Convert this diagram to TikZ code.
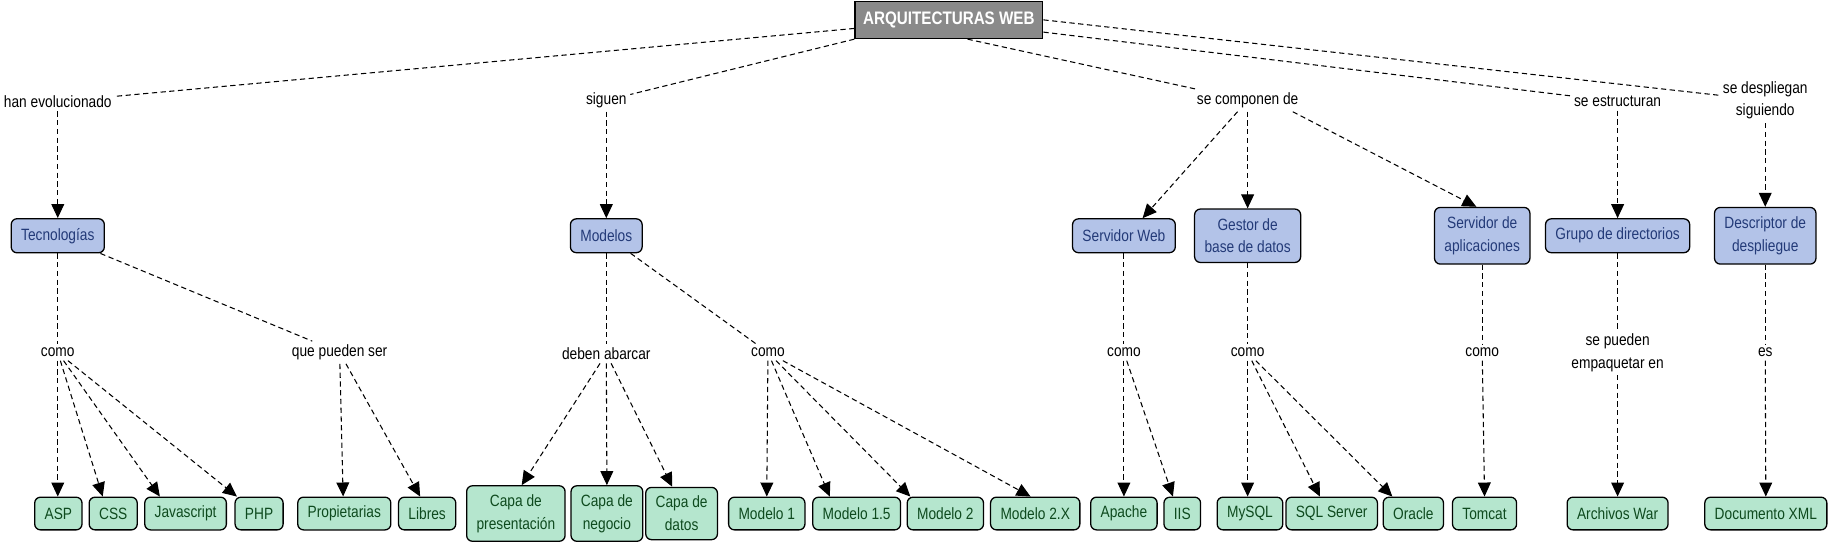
\documentclass[tikz,border=0pt]{standalone}
\usepackage{fontspec}
\setmainfont[FakeStretch=0.84]{Liberation Sans}
\usetikzlibrary{arrows.meta}
\definecolor{cblue}{HTML}{B3C3E8}
\definecolor{cnavy}{HTML}{233A78}
\definecolor{cgreen}{HTML}{B5E6CE}
\definecolor{cdgreen}{HTML}{0E4A1E}
\definecolor{cgray}{HTML}{8A8A8A}
\begin{document}
\begin{tikzpicture}[x=1pt,y=-1pt,
  base/.style={font=\fontsize{14}{19.5}\selectfont, align=center},
  rootbox/.style={draw, line width=1.1pt, fill=cgray, text=white, font=\fontsize{15.5}{18}\selectfont\bfseries, inner xsep=7pt, minimum height=32pt},
  concept/.style={base, draw, line width=1.1pt, rounded corners=5pt, fill=cblue, text=cnavy, inner xsep=8.5pt, inner ysep=8pt, minimum height=29pt},
  leaf/.style={base, draw, line width=1.1pt, rounded corners=5pt, fill=cgreen, text=cdgreen, inner xsep=8.5pt, inner ysep=7.5pt, minimum height=28pt},
  phrase/.style={base, inner sep=3pt},
  link/.style={line width=0.9pt, dash pattern=on 4.5pt off 3pt},
  arr/.style={link, -{Triangle[length=12pt,width=11pt]}}]
\useasboundingbox (0,0) rectangle (1568,467);
% root
\node[rootbox] (root) at (813,17) {ARQUITECTURAS WEB};
% first linking phrases
\node[phrase] (he) at (49.5,87) {han evolucionado};
\node[phrase] (sig) at (519.5,86) {siguen};
\node[phrase] (scd) at (1069,86) {se componen de};
\node[phrase] (sest) at (1386,87) {se estructuran};
\node[phrase] (sdes) at (1512.5,86) {se despliegan\\siguiendo};
% concepts
\node[concept] (tec) at (49.5,202) {Tecnologías};
\node[concept] (mod) at (519.5,202) {Modelos};
\node[concept] (sw) at (963,202) {Servidor Web};
\node[concept] (gbd) at (1069,202) {Gestor de\\base de datos};
\node[concept] (sa) at (1270,202) {Servidor de\\aplicaciones};
\node[concept] (gd) at (1386,202) {Grupo de directorios};
\node[concept] (dd) at (1512.5,202) {Descriptor de\\despliegue};
% second linking phrases
\node[phrase] (como1) at (49.5,302) {como};
\node[phrase] (qps) at (291,302) {que pueden ser};
\node[phrase] (deb) at (519.5,303) {deben abarcar};
\node[phrase] (como2) at (658,302) {como};
\node[phrase] (como3) at (963,302) {como};
\node[phrase] (como4) at (1069,302) {como};
\node[phrase] (como5) at (1270,302) {como};
\node[phrase] (spe) at (1386,302) {se pueden\\empaquetar en};
\node[phrase] (es) at (1512.5,302) {es};
% leaves
\node[leaf] (asp) at (50,440) {ASP};
\node[leaf] (css) at (97,440) {CSS};
\node[leaf] (js) at (159,440) {Javascript};
\node[leaf] (php) at (222,440) {PHP};
\node[leaf] (prop) at (295,440) {Propietarias};
\node[leaf] (lib) at (366,440) {Libres};
\node[leaf] (cp) at (442,440) {Capa de\\presentación};
\node[leaf] (cn) at (520,440) {Capa de\\negocio};
\node[leaf] (cd) at (584,440) {Capa de\\datos};
\node[leaf] (m1) at (657,440) {Modelo 1};
\node[leaf] (m15) at (734,440) {Modelo 1.5};
\node[leaf] (m2) at (810,440) {Modelo 2};
\node[leaf] (m2x) at (887,440) {Modelo 2.X};
\node[leaf] (apa) at (963,440) {Apache};
\node[leaf] (iis) at (1013,440) {IIS};
\node[leaf] (mys) at (1071,440) {MySQL};
\node[leaf] (sqls) at (1141,440) {SQL Server};
\node[leaf] (ora) at (1211,440) {Oracle};
\node[leaf] (tom) at (1272,440) {Tomcat};
\node[leaf] (aw) at (1386,440) {Archivos War};
\node[leaf] (dx) at (1513,440) {Documento XML};
% root links
\draw[link] (root) -- (he);
\draw[link] (root.south west) -- (sig);
\draw[link] ([xshift=16pt]root.south) -- (scd);
\draw[link] ([yshift=-10.5pt]root.east) -- (sest);
\draw[link] (root.east) -- (sdes);
% phrase -> concept
\draw[arr] (he) -- (tec);
\draw[arr] (sig) -- (mod);
\draw[arr] (scd) -- ([xshift=16pt]sw.north);
\draw[arr] (scd) -- (gbd);
\draw[arr] ([xshift=-8pt]scd.south east) -- ([xshift=-5pt]sa.north);
\draw[arr] (sest) -- (gd);
\draw[arr] (sdes) -- (dd);
% concept -> phrase
\draw[link] (tec) -- (como1);
\draw[link] (tec) -- (qps);
\draw[link] (mod) -- (deb);
\draw[link] (mod) -- (como2);
\draw[link] (sw) -- (como3);
\draw[link] (gbd) -- (como4);
\draw[link] (sa) -- (como5);
\draw[link] (gd) -- (spe);
\draw[link] (dd) -- (es);
% phrase -> leaves
\draw[arr] (como1) -- ([xshift=-0.5pt]asp.north);
\draw[arr] (como1) -- ([xshift=-9pt]css.north);
\draw[arr] (como1) -- ([xshift=-22pt]js.north);
\draw[arr] (como1) -- ([xshift=-19pt]php.north);
\draw[arr] (qps) -- ([xshift=-1pt]prop.north);
\draw[arr] (qps) -- ([xshift=-6pt]lib.north);
\draw[arr] (deb) -- ([xshift=5pt]cp.north);
\draw[arr] (deb) -- (cn.north);
\draw[arr] (deb) -- ([xshift=-8pt]cd.north);
\draw[arr] (como2) -- (m1.north);
\draw[arr] (como2) -- ([xshift=-23pt]m15.north);
\draw[arr] (como2) -- ([xshift=-30pt]m2.north);
\draw[arr] (como2) -- ([xshift=-4pt]m2x.north);
\draw[arr] (como3) -- (apa.north);
\draw[arr] (como3) -- ([xshift=-8pt]iis.north);
\draw[arr] (como4) -- ([xshift=-2pt]mys.north);
\draw[arr] (como4) -- ([xshift=-10pt]sqls.north);
\draw[arr] (como4) -- ([xshift=-18pt]ora.north);
\draw[arr] (como5) -- (tom.north);
\draw[arr] (spe) -- (aw.north);
\draw[arr] (es) -- (dx.north);
\end{tikzpicture}
\end{document}
